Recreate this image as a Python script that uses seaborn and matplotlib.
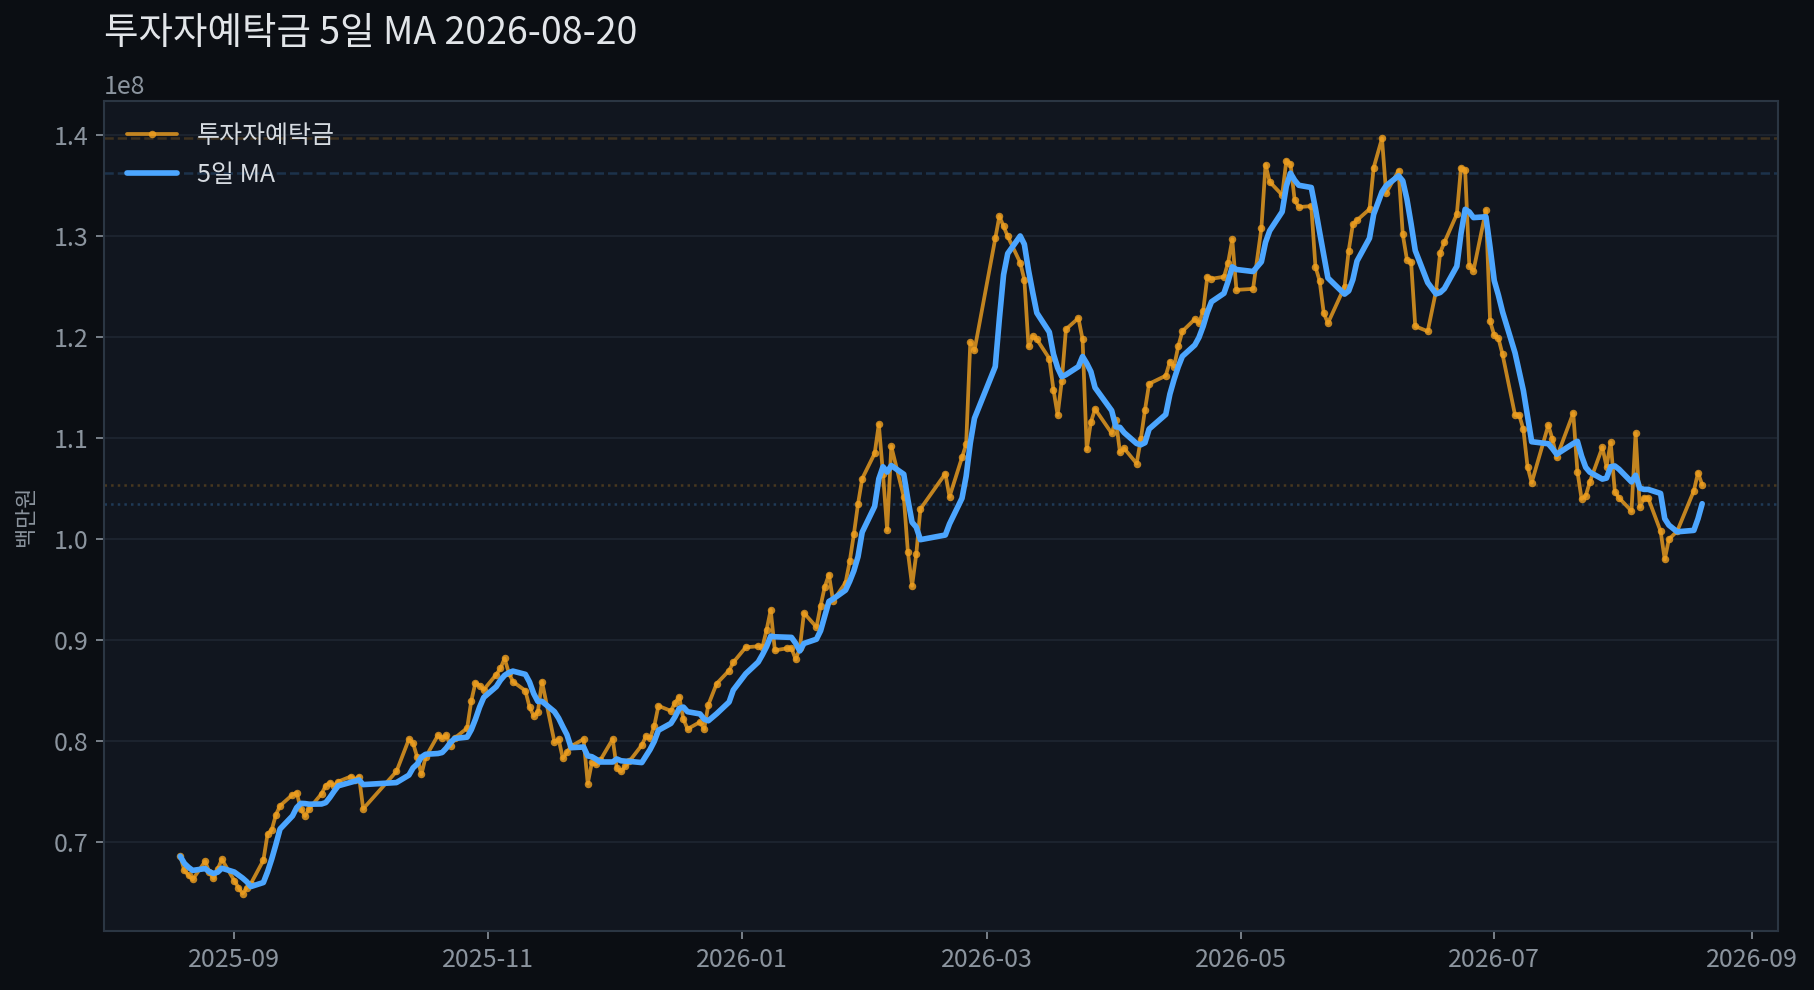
#!/usr/bin/env python
# coding: utf-8

"""
투자자예탁금 with 5-day moving average (dark theme)
"""

import pandas as pd
import matplotlib
matplotlib.use("Agg")
import matplotlib.pyplot as plt
import matplotlib.dates as mdates
import seaborn as sns

# Data: trading days per month and deposit level (x1e8 won)
aug25_days = [19, 20, 21, 22, 25, 26, 27, 28, 29]
aug25_vals = [0.686, 0.672, 0.667, 0.663, 0.681, 0.670, 0.664, 0.673, 0.683]

sep25_days = [1, 2, 3, 4, 5, 8, 9, 10, 11, 12, 15, 16, 17, 18, 19, 22, 23, 24, 25, 26, 29, 30]
sep25_vals = [0.662, 0.655, 0.649, 0.655, 0.659, 0.682, 0.708, 0.712, 0.727, 0.736, 0.747,
              0.749, 0.733, 0.726, 0.733, 0.748, 0.756, 0.759, 0.756, 0.760, 0.765, 0.762]

oct25_days = [1, 2, 10, 13, 14, 15, 16, 17, 20, 21, 22, 23, 24, 27, 28, 29, 30, 31]
oct25_vals = [0.765, 0.733, 0.770, 0.802, 0.798, 0.784, 0.767, 0.784, 0.806, 0.803, 0.806,
              0.795, 0.803, 0.813, 0.840, 0.858, 0.855, 0.851]

nov25_days = [3, 4, 5, 6, 7, 10, 11, 12, 13, 14, 17, 18, 19, 20, 21, 24, 25, 26, 27, 28]
nov25_vals = [0.866, 0.872, 0.882, 0.868, 0.859, 0.850, 0.834, 0.825, 0.829, 0.859, 0.799,
              0.802, 0.783, 0.789, 0.795, 0.802, 0.758, 0.779, 0.777, 0.781]

dec25_days = [1, 2, 3, 4, 5, 8, 9, 10, 11, 12, 15, 16, 17, 18, 19, 22, 23, 24, 26, 29, 30]
dec25_vals = [0.802, 0.773, 0.770, 0.775, 0.780, 0.796, 0.805, 0.803, 0.815, 0.835, 0.830,
              0.838, 0.844, 0.822, 0.812, 0.819, 0.812, 0.836, 0.857, 0.870, 0.878]

jan26_days = [2, 5, 6, 7, 8, 9, 12, 13, 14, 15, 16, 19, 20, 21, 22, 23, 26, 27, 28, 29, 30]
jan26_vals = [0.893, 0.894, 0.893, 0.910, 0.930, 0.890, 0.892, 0.892, 0.881, 0.892, 0.927,
              0.913, 0.934, 0.953, 0.965, 0.939, 0.957, 0.978, 1.005, 1.035, 1.060]

feb26_days = [2, 3, 4, 5, 6, 9, 10, 11, 12, 13, 19, 20, 23, 24, 25, 26]
feb26_vals = [1.085, 1.114, 1.065, 1.009, 1.092, 1.042, 0.987, 0.954, 0.985, 1.030, 1.065,
              1.042, 1.081, 1.094, 1.195, 1.187]

mar26_days = [3, 4, 5, 6, 9, 10, 11, 12, 13, 16, 17, 18, 19, 20, 23, 24, 25, 26, 27, 31]
mar26_vals = [1.298, 1.320, 1.310, 1.300, 1.274, 1.257, 1.191, 1.201, 1.198, 1.179, 1.148,
              1.123, 1.157, 1.208, 1.219, 1.198, 1.089, 1.116, 1.129, 1.105]

apr26_days = [1, 2, 3, 6, 7, 8, 9, 13, 14, 15, 16, 17, 20, 21, 22, 23, 24, 27, 28, 29, 30]
apr26_vals = [1.118, 1.086, 1.090, 1.075, 1.099, 1.128, 1.154, 1.162, 1.176, 1.171, 1.191,
              1.206, 1.218, 1.214, 1.226, 1.260, 1.258, 1.260, 1.274, 1.297, 1.247]

may26_days = [4, 6, 7, 8, 11, 12, 13, 14, 15, 18, 19, 20, 21, 22, 26, 27, 28, 29]
may26_vals = [1.248, 1.308, 1.371, 1.354, 1.341, 1.375, 1.372, 1.336, 1.329, 1.330, 1.270,
              1.256, 1.224, 1.214, 1.250, 1.286, 1.312, 1.316]

jun26_days = [1, 2, 4, 5, 8, 9, 10, 11, 12, 15, 17, 18, 19, 22, 23, 24, 25, 26, 29, 30]
jun26_vals = [1.327, 1.368, 1.397, 1.343, 1.365, 1.302, 1.277, 1.275, 1.211, 1.206, 1.246,
              1.284, 1.294, 1.322, 1.368, 1.366, 1.271, 1.266, 1.326, 1.216]

jul26_days = [1, 2, 3, 6, 7, 8, 9, 10, 14, 15, 16, 20, 21, 22, 23, 24, 27, 28, 29, 30, 31]
jul26_vals = [1.202, 1.199, 1.183, 1.123, 1.123, 1.109, 1.072, 1.056, 1.113, 1.099, 1.081,
              1.125, 1.067, 1.040, 1.043, 1.057, 1.091, 1.072, 1.096, 1.047, 1.041]

aug26_days = [3, 4, 5, 6, 7, 10, 11, 12, 14, 18, 19, 20]
aug26_vals = [1.028, 1.105, 1.032, 1.041, 1.041, 1.008, 0.980, 1.000, 1.008, 1.048, 1.066, 1.054]

TITLE = '투자자예탁금 5일 MA 2026-08-20'
LABEL_RAW = '투자자예탁금'
LABEL_MA = '5일 MA'
YLABEL = '백만원'

# Colours
FIG_BG = '#0b0e13'
AX_BG = '#11161f'
GRID = '#1c232e'
SPINE = '#2b3643'
TICK = '#8b949e'
TEXT = '#e2e5e9'
ORANGE = '#f0a020'
BLUE = '#4ca6ff'


def build_frame():
    months = [
        (2025, 8, aug25_days, aug25_vals), (2025, 9, sep25_days, sep25_vals),
        (2025, 10, oct25_days, oct25_vals), (2025, 11, nov25_days, nov25_vals),
        (2025, 12, dec25_days, dec25_vals), (2026, 1, jan26_days, jan26_vals),
        (2026, 2, feb26_days, feb26_vals), (2026, 3, mar26_days, mar26_vals),
        (2026, 4, apr26_days, apr26_vals), (2026, 5, may26_days, may26_vals),
        (2026, 6, jun26_days, jun26_vals), (2026, 7, jul26_days, jul26_vals),
        (2026, 8, aug26_days, aug26_vals),
    ]
    dates, vals = [], []
    for y, m, days, v in months:
        dates += [pd.Timestamp(y, m, d) for d in days]
        vals += [x * 1e8 for x in v]
    df = pd.DataFrame({'date': dates, 'deposit': vals})
    df['ma5'] = df['deposit'].rolling(5, min_periods=1).mean()
    return df


def main():
    df = build_frame()

    sns.set_theme(style="dark")
    plt.rcParams['font.family'] = ['Noto Sans CJK KR', 'DejaVu Sans']
    plt.rcParams['font.weight'] = 'light'
    plt.rcParams['axes.unicode_minus'] = False

    fig, ax = plt.subplots(figsize=(1814 / 150, 990 / 150), dpi=150)
    fig.patch.set_facecolor(FIG_BG)
    ax.set_facecolor(AX_BG)
    fig.subplots_adjust(left=0.0574, right=0.9803, top=0.8983, bottom=0.0592)

    # reference lines: max / last of raw and MA
    ax.axhline(df['deposit'].max(), color=ORANGE, ls='--', lw=1.2, alpha=0.2, zorder=1)
    ax.axhline(df['ma5'].max(), color=BLUE, ls='--', lw=1.2, alpha=0.2, zorder=1)
    ax.axhline(df['deposit'].iloc[-1], color=ORANGE, ls=':', lw=1.2, alpha=0.25, zorder=1)
    ax.axhline(df['ma5'].iloc[-1], color=BLUE, ls=':', lw=1.2, alpha=0.25, zorder=1)

    sns.lineplot(data=df, x='date', y='deposit', ax=ax, color=ORANGE, linewidth=1.8,
                 alpha=0.8, marker='o', markersize=3.6, markeredgewidth=0,
                 label=LABEL_RAW, zorder=3)
    sns.lineplot(data=df, x='date', y='ma5', ax=ax, color=BLUE, linewidth=2.7,
                 label=LABEL_MA, zorder=4)

    ax.set_title(TITLE, loc='left', fontsize=18, color=TEXT, pad=27)
    ax.set_xlabel('')
    ax.set_ylabel(YLABEL, fontsize=10.5, color=TICK)
    ax.yaxis.set_label_coords(-0.040, 0.5)

    ax.xaxis.set_major_locator(mdates.MonthLocator(bymonth=[1, 3, 5, 7, 9, 11]))
    ax.xaxis.set_major_formatter(mdates.DateFormatter('%Y-%m'))

    ax.grid(axis='y', color=GRID, linewidth=1.0)
    ax.grid(axis='x', visible=False)
    ax.tick_params(axis='both', colors=TICK, labelsize=12, length=4, width=0.8,
                   left=True, bottom=True)
    ax.yaxis.get_offset_text().set_color(TICK)
    ax.yaxis.get_offset_text().set_fontsize(12)
    for s in ax.spines.values():
        s.set_color(SPINE)
        s.set_linewidth(1.0)

    ax.legend(loc='upper left', frameon=False, fontsize=12, labelcolor='#d6dbe1')

    plt.savefig('out.png', dpi=150, facecolor=FIG_BG)
    plt.close()


if __name__ == "__main__":
    main()
